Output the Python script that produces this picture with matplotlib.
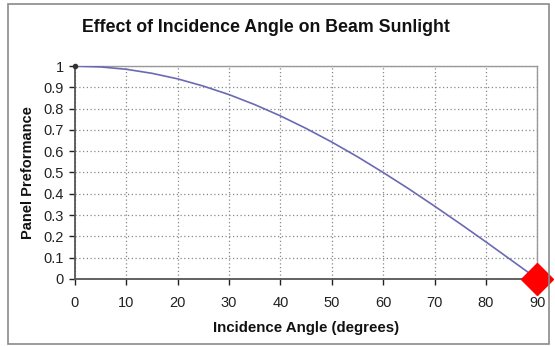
import matplotlib
matplotlib.use('Agg')

import matplotlib.pyplot as plt
from matplotlib.patches import Rectangle

# Performance relative to normal incidence, read every 5 degrees
angulos = [0, 5, 10, 15, 20, 25, 30, 35, 40, 45, 50, 55, 60, 65, 70, 75, 80, 85, 90]
desempenho = [1.0, 0.996, 0.985, 0.966, 0.94, 0.906, 0.866, 0.819, 0.766, 0.707,
              0.643, 0.574, 0.5, 0.423, 0.342, 0.259, 0.174, 0.087, 0.0]

# Highlighted point at grazing incidence
ponto_x = [90]
ponto_y = [0.0]

xticks = [0, 10, 20, 30, 40, 50, 60, 70, 80, 90]
yticks = [0, 0.1, 0.2, 0.3, 0.4, 0.5, 0.6, 0.7, 0.8, 0.9, 1]
ytick_labels = ['0', '0.1', '0.2', '0.3', '0.4', '0.5', '0.6', '0.7', '0.8', '0.9', '1']

plt.rcParams['font.family'] = ['Liberation Sans', 'DejaVu Sans']

fig = plt.figure(figsize=(5.55, 3.46), dpi=100)
fig.patch.set_facecolor('white')

# moldura externa do gráfico
fig.patches.append(Rectangle((8 / 555, 2 / 346), 541 / 555, 340 / 346,
                             transform=fig.transFigure, fill=False,
                             edgecolor='#8a8a8a', linewidth=1.2))

ax = fig.add_axes([0.135, 0.194, 0.833, 0.615])
ax.plot(angulos, desempenho, color='#6a6ab4', linewidth=1.2, zorder=3)
ax.plot(angulos[:1], desempenho[:1], marker='o', markersize=3, color='#333333',
        linestyle='none', zorder=4, clip_on=False)
ax.plot(ponto_x, ponto_y, marker='D', markersize=16.5, color='#ff0000',
        linestyle='none', zorder=5, clip_on=False)

ax.set_xlim(0, 90)
ax.set_ylim(0, 1)
ax.set_xticks(xticks)
ax.set_yticks(yticks)
ax.set_yticklabels(ytick_labels)
ax.tick_params(axis='both', labelsize=10.5, colors='#222222', length=4,
               width=1, pad=8)
ax.tick_params(axis='x', direction='out')
ax.tick_params(axis='y', direction='out', pad=4)
for lbl in ax.get_xticklabels() + ax.get_yticklabels():
    lbl.set_color('#222222')

ax.grid(True, linestyle=(0, (1, 2)), color='#888888', linewidth=0.9)
ax.set_axisbelow(True)

for lado in ['left', 'bottom']:
    ax.spines[lado].set_color('#555555')
    ax.spines[lado].set_linewidth(1.3)
for lado in ['top', 'right']:
    ax.spines[lado].set_color('#999999')
    ax.spines[lado].set_linewidth(1.0)

fig.suptitle('Effect of Incidence Angle on Beam Sunlight', x=266 / 555,
             y=1 - 27 / 346, va='center', fontsize=12.8, fontweight='bold',
             color='#111111')
ax.set_xlabel('Incidence Angle (degrees)', fontsize=10.8, fontweight='bold',
              color='#111111', labelpad=8)
ax.set_ylabel('Panel Preformance', fontsize=10.5, fontweight='bold',
              color='#111111', labelpad=6)

plt.savefig('out.png', dpi=100, facecolor='white')
